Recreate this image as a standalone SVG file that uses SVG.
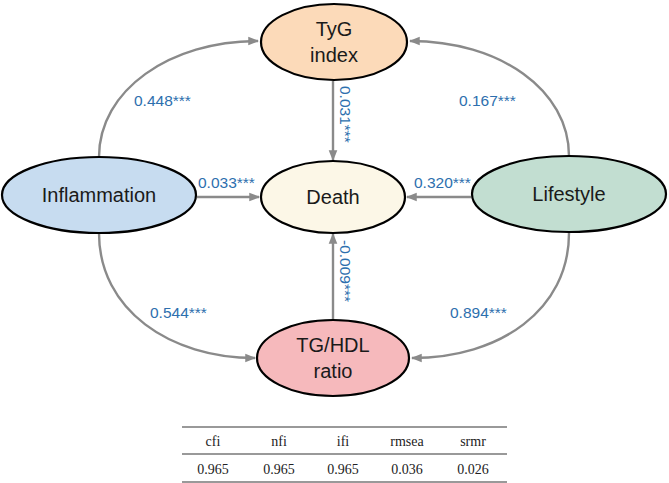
<svg xmlns="http://www.w3.org/2000/svg" width="669" height="483" viewBox="0 0 669 483">
<style>
.node{stroke:#000;stroke-width:2.2}
.nt{font-family:"Liberation Sans",Arial,sans-serif;font-size:20px;fill:#1a1a1a;text-anchor:middle}
.edge{fill:none;stroke:#8a8a8a;stroke-width:2.4}
.lab{font-family:"Liberation Sans",Arial,sans-serif;font-size:15.5px;fill:#2d6fae}
.tb{font-family:"Liberation Serif","Times New Roman",serif;font-size:14px;fill:#222;text-anchor:middle}
.rule{stroke:#777;stroke-width:1.3}
</style>
<defs>
<marker id="ah" viewBox="0 0 10 10" refX="9" refY="5" markerWidth="4.5" markerHeight="4.5" orient="auto" markerUnits="strokeWidth">
<path d="M0,1 L10,5 L0,9 Z" fill="#8a8a8a"/>
</marker>
</defs>
<rect width="669" height="483" fill="#fff"/>
<g id="connectors">
<path class="edge" d="M99,157 C99,90 170,41 258,41" marker-end="url(#ah)"/>
<path class="edge" d="M569,156 C569,90 500,41 410,41" marker-end="url(#ah)"/>
<path class="edge" d="M99,233 C99,310 170,358 255,358" marker-end="url(#ah)"/>
<path class="edge" d="M569,233 C569,310 500,358 412,358" marker-end="url(#ah)"/>
<path class="edge" d="M197,197 L259,197" marker-end="url(#ah)"/>
<path class="edge" d="M471,197 L407,197" marker-end="url(#ah)"/>
<path class="edge" d="M333,81 L333,160" marker-end="url(#ah)"/>
<path class="edge" d="M333,320 L333,234" marker-end="url(#ah)"/>
<text class="lab" x="134" y="106">0.448***</text>
<text class="lab" x="459" y="106">0.167***</text>
<text class="lab" x="150" y="318">0.544***</text>
<text class="lab" x="450" y="318">0.894***</text>
<text class="lab" x="198" y="188">0.033***</text>
<text class="lab" x="414" y="188">0.320***</text>
<text class="lab" transform="translate(340,86) rotate(90)">0.031***</text>
<text class="lab" transform="translate(340,240) rotate(90)">-0.009***</text>
</g>
<g id="tyg">
<ellipse class="node" cx="334" cy="42" rx="73" ry="38" fill="#fcdab9"/>
<text class="nt" x="334" y="36">TyG</text>
<text class="nt" x="334" y="62">index</text>
</g>
<g id="death">
<ellipse class="node" cx="333" cy="197" rx="72" ry="36" fill="#fcf7e7"/>
<text class="nt" x="333" y="204">Death</text>
</g>
<g id="inflammation">
<ellipse class="node" cx="99" cy="195" rx="97" ry="38" fill="#c7dcf0"/>
<text class="nt" x="99" y="202">Inflammation</text>
</g>
<g id="lifestyle">
<ellipse class="node" cx="569" cy="194" rx="97" ry="38" fill="#c2ded1"/>
<text class="nt" x="569" y="201">Lifestyle</text>
</g>
<g id="tghdl">
<ellipse class="node" cx="333" cy="358" rx="76" ry="38" fill="#f6b9bc"/>
<text class="nt" x="333" y="352">TG/HDL</text>
<text class="nt" x="333" y="378">ratio</text>
</g>
<g id="fit-table">
<line class="rule" x1="182" y1="427" x2="507" y2="427"/>
<line class="rule" x1="182" y1="454" x2="507" y2="454"/>
<line class="rule" x1="182" y1="482" x2="507" y2="482"/>
<text class="tb" x="213" y="446">cfi</text>
<text class="tb" x="279" y="446">nfi</text>
<text class="tb" x="343" y="446">ifi</text>
<text class="tb" x="407" y="446">rmsea</text>
<text class="tb" x="473" y="446">srmr</text>
<text class="tb" x="213" y="474">0.965</text>
<text class="tb" x="279" y="474">0.965</text>
<text class="tb" x="343" y="474">0.965</text>
<text class="tb" x="407" y="474">0.036</text>
<text class="tb" x="473" y="474">0.026</text>
</g>
</svg>
